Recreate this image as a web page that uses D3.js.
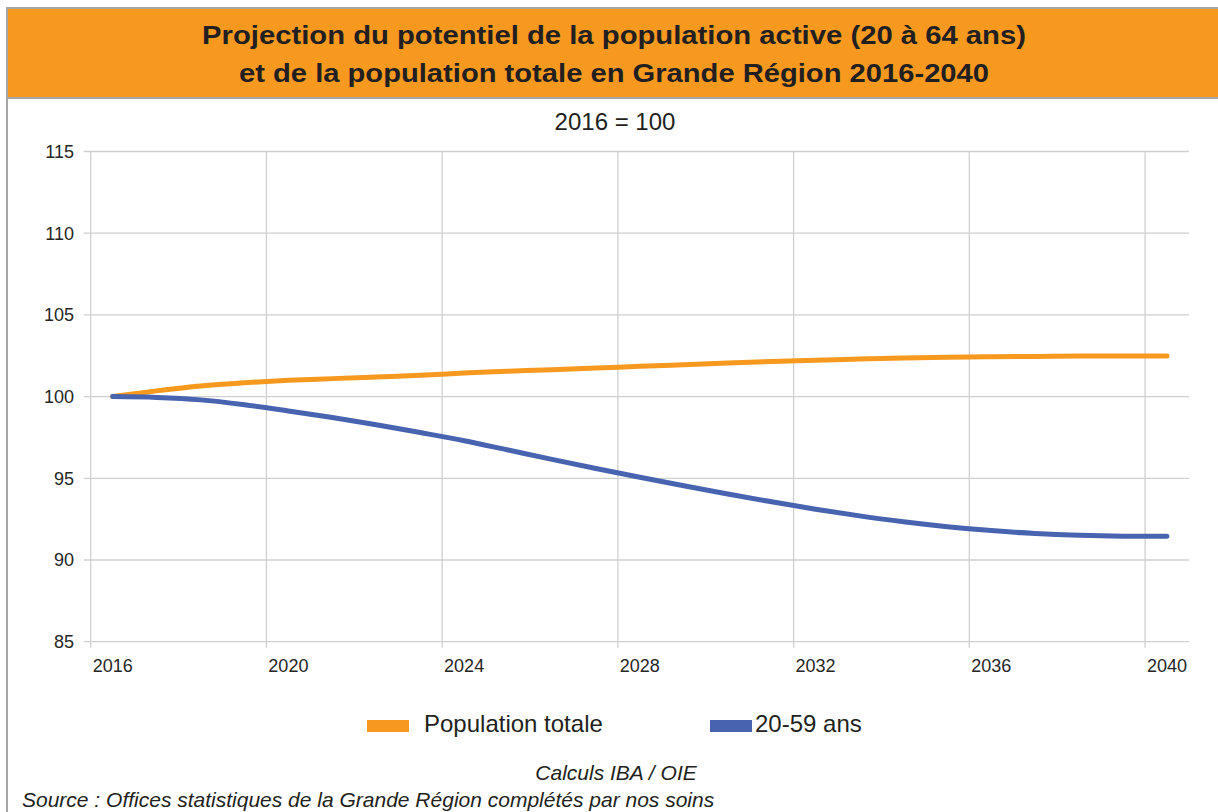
<!DOCTYPE html>
<html>
<head>
<meta charset="utf-8">
<script src="https://cdn.jsdelivr.net/npm/d3@7"></script>
<style>
  body { margin: 0; background: #fff; }
  svg { display: block; font-family: "Liberation Sans", Arial, sans-serif; }
</style>
</head>
<body>
<svg id="chart" width="1218" height="812"></svg>
<script>
// chart data
const years = d3.range(2016, 2041)
const popTotale = [100, 100.35, 100.65, 100.85, 101.0, 101.1, 101.2, 101.3, 101.45, 101.55, 101.65, 101.75, 101.85,
                   101.95, 102.05, 102.15, 102.22, 102.3, 102.36, 102.41, 102.44, 102.46, 102.48, 102.48, 102.48]
const ans2059 = [100, 99.95, 99.8, 99.5, 99.12, 98.72, 98.28, 97.8, 97.3, 96.73, 96.16, 95.6, 95.06,
                 94.54, 94.04, 93.56, 93.11, 92.7, 92.34, 92.04, 91.8, 91.62, 91.51, 91.46, 91.45]
const yTicks = [85, 90, 95, 100, 105, 110, 115]
const xTickYears = [2016, 2020, 2024, 2028, 2032, 2036, 2040]
const seriesNames = ["Population totale", "20-59 ans"]

const orange = "#f7991f"
const blue = "#4864b0"
const grid = "#d0d0d0"
const ink = "#231f20"

const svg = d3.select("#chart")

// outer frame and title band
svg.append("rect").attr("x", 7).attr("y", 8).attr("width", 1220).attr("height", 820)
    .attr("fill", "none").attr("stroke", "#a6a6a6").attr("stroke-width", 2)
svg.append("rect").attr("x", 8).attr("y", 9).attr("width", 1212).attr("height", 88).attr("fill", orange)
svg.append("line").attr("x1", 8).attr("x2", 1218).attr("y1", 98).attr("y2", 98)
    .attr("stroke", "#a6a6a6").attr("stroke-width", 2)

// title, stretched to the widths of the original lines
const titleLines = ["Projection du potentiel de la population active (20 à 64 ans)",
                    "et de la population totale en Grande Région 2016-2040"]
const titleWidths = [824, 750]
svg.selectAll(".title").data(titleLines).join("text")
    .attr("class", "title")
    .attr("x", 614).attr("y", (d, i) => 43.5 + i * 38.5)
    .attr("text-anchor", "middle")
    .attr("font-size", 26).attr("font-weight", "bold").attr("fill", ink)
    .attr("textLength", (d, i) => titleWidths[i]).attr("lengthAdjust", "spacingAndGlyphs")
    .text(d => d)

svg.append("text").attr("x", 615).attr("y", 130).attr("text-anchor", "middle")
    .attr("font-size", 24).attr("fill", ink).text("2016 = 100")

// scales: category axis with points at band centres
const plotLeft = 90.7, plotRight = 1189, plotTop = 151.5, plotBottom = 641.7
const x = d3.scaleBand().domain(years).range([plotLeft, plotRight])
const y = d3.scaleLinear().domain([85, 115]).range([plotBottom, plotTop])
const cx = d => x(d) + x.bandwidth() / 2

// horizontal gridlines
svg.append("g").selectAll("line").data(yTicks).join("line")
    .attr("x1", plotLeft - 7).attr("x2", plotRight)
    .attr("y1", d => y(d)).attr("y2", d => y(d))
    .attr("stroke", grid).attr("stroke-width", 1.3)

// vertical gridlines at category boundaries
svg.append("g").selectAll("line").data(xTickYears).join("line")
    .attr("x1", d => x(d)).attr("x2", d => x(d))
    .attr("y1", plotTop).attr("y2", plotBottom + 6)
    .attr("stroke", grid).attr("stroke-width", 1.3)

// y labels
svg.append("g").selectAll("text").data(yTicks).join("text")
    .attr("x", 74).attr("y", d => y(d)).attr("dy", "0.35em")
    .attr("text-anchor", "end").attr("font-size", 18).attr("fill", "#262626")
    .text(d => d)

// x labels
svg.append("g").selectAll("text").data(xTickYears).join("text")
    .attr("x", d => cx(d)).attr("y", 671.5)
    .attr("text-anchor", "middle").attr("font-size", 18).attr("fill", "#262626")
    .text(d => d)

// series lines
const line = d3.line().x((d, i) => cx(years[i])).y(d => y(d)).curve(d3.curveMonotoneX)
const series = [popTotale, ans2059]
const colors = [orange, blue]
svg.append("g").selectAll("path").data(series).join("path")
    .attr("d", line).attr("fill", "none")
    .attr("stroke", (d, i) => colors[i]).attr("stroke-width", 5)
    .attr("stroke-linecap", "round").attr("stroke-linejoin", "round")

// legend
const legendX = [367, 710]
const legend = svg.append("g").selectAll("g").data(seriesNames).join("g")
    .attr("transform", (d, i) => `translate(${legendX[i]}, 726)`)
legend.append("rect").attr("x", 0).attr("y", -6).attr("width", 42).attr("height", 12)
    .attr("fill", (d, i) => colors[i])
legend.append("text").attr("x", (d, i) => i === 0 ? 57 : 45).attr("y", 5.5)
    .attr("font-size", 24).attr("fill", ink).text(d => d)

// sources
svg.append("text").attr("x", 616).attr("y", 780).attr("text-anchor", "middle")
    .attr("font-size", 21).attr("font-style", "italic").attr("fill", ink)
    .text("Calculs IBA / OIE")
svg.append("text").attr("x", 22).attr("y", 806.5)
    .attr("font-size", 21).attr("font-style", "italic").attr("fill", ink)
    .text("Source : Offices statistiques de la Grande Région complétés par nos soins")
</script>
</body>
</html>
